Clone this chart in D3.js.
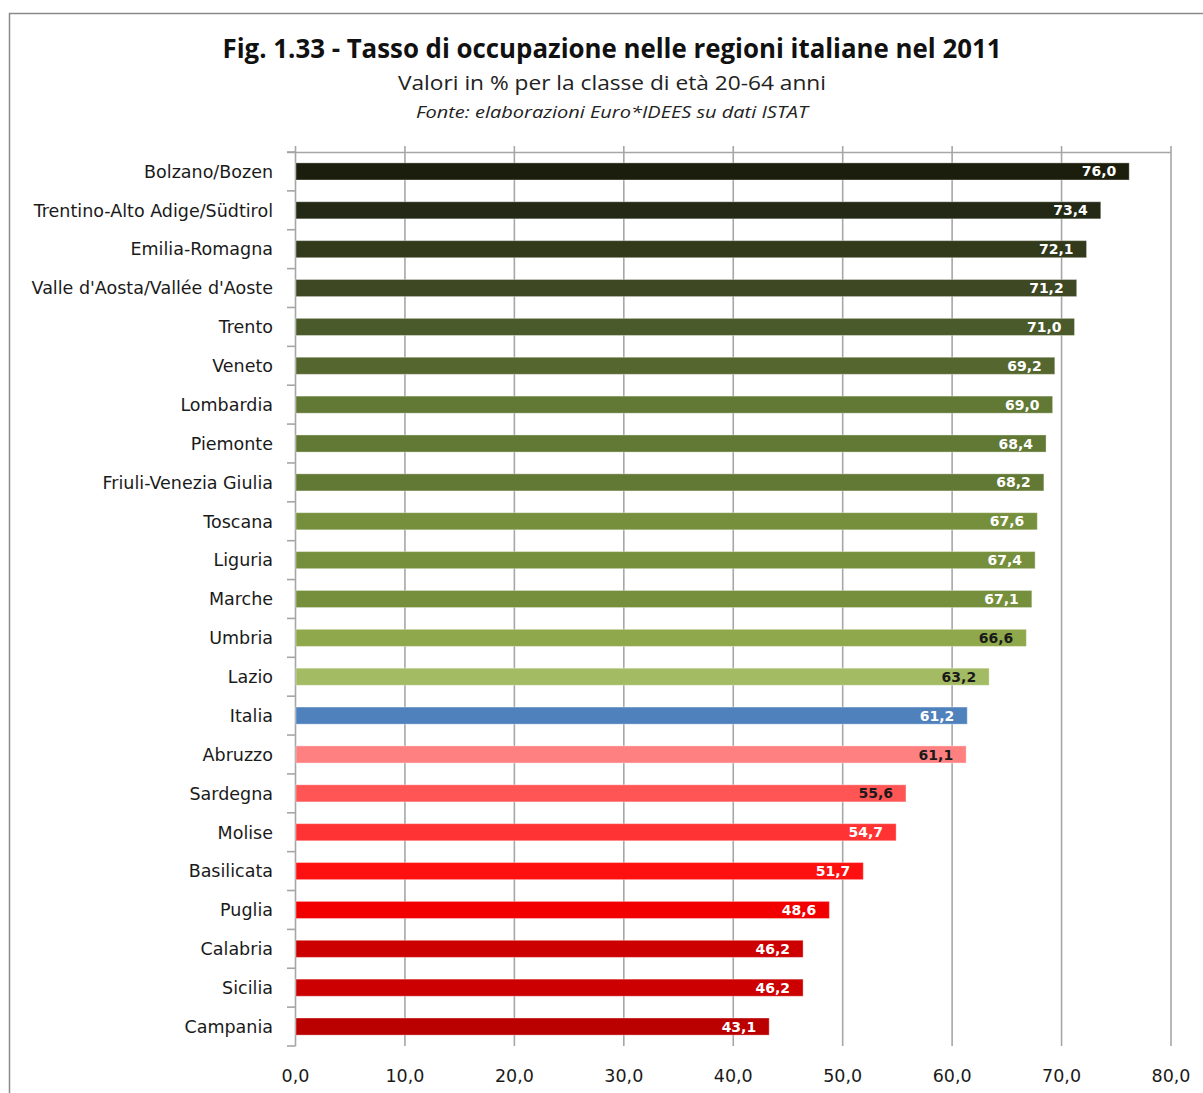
<!DOCTYPE html>
<html>
<head>
<meta charset="utf-8">
<script src="https://cdn.jsdelivr.net/npm/d3@7"></script>
<style>
  html, body { margin: 0; padding: 0; background: #fff; }
  svg { display: block; }
</style>
</head>
<body>
<svg id="chart" width="1203" height="1093"></svg>
<script>
const regions = [
  "Bolzano/Bozen", "Trentino-Alto Adige/Südtirol", "Emilia-Romagna", "Valle d'Aosta/Vallée d'Aoste",
  "Trento", "Veneto", "Lombardia", "Piemonte", "Friuli-Venezia Giulia", "Toscana", "Liguria",
  "Marche", "Umbria", "Lazio", "Italia", "Abruzzo", "Sardegna", "Molise", "Basilicata",
  "Puglia", "Calabria", "Sicilia", "Campania"
];
const values = [76.0, 73.4, 72.1, 71.2, 71.0, 69.2, 69.0, 68.4, 68.2, 67.6, 67.4, 67.1, 66.6, 63.2,
  61.2, 61.1, 55.6, 54.7, 51.7, 48.6, 46.2, 46.2, 43.1];
const barColors = ["#1b1e0d", "#232914", "#333a1c", "#3e4822", "#4a5a2a", "#55672f", "#627835",
  "#627835", "#627835", "#768f3c", "#768f3c", "#768f3c", "#8fa84b", "#a3bc63", "#4f81bd",
  "#ff8080", "#ff5555", "#ff3333", "#ff1010", "#f20000", "#cc0000", "#cc0000", "#bb0000"];
const labelColors = ["#fff", "#fff", "#fff", "#fff", "#fff", "#fff", "#fff", "#fff", "#fff", "#fff",
  "#fff", "#fff", "#1a1a1a", "#1a1a1a", "#fff", "#1a1a1a", "#1a1a1a", "#fff", "#fff", "#fff",
  "#fff", "#fff", "#fff"];
const xTicks = [0, 10, 20, 30, 40, 50, 60, 70, 80];

const title = "Fig. 1.33 - Tasso di occupazione nelle regioni italiane nel 2011";
const subtitle = "Valori in % per la classe di età 20-64 anni";
const source = "Fonte: elaborazioni Euro*IDEES su dati ISTAT";

const svg = d3.select("#chart");
const fmt = v => d3.format(".1f")(v).replace(".", ",");

// outer frame
svg.append("rect").attr("x", 9.5).attr("y", 13.5).attr("width", 1210).attr("height", 1100)
  .attr("fill", "#fff").attr("stroke", "#8a8a8a").attr("stroke-width", 1.5);

// titles
svg.append("text").attr("x", 612).attr("y", 58).attr("text-anchor", "middle")
  .attr("font-family", "Open Sans, sans-serif").attr("font-weight", "bold").attr("font-size", 26)
  .attr("textLength", 779).attr("lengthAdjust", "spacingAndGlyphs")
  .attr("fill", "#111").text(title);
svg.append("text").attr("x", 612).attr("y", 90).attr("text-anchor", "middle")
  .attr("font-family", "Open Sans, sans-serif").attr("font-size", 20)
  .attr("textLength", 428).attr("lengthAdjust", "spacingAndGlyphs")
  .attr("fill", "#222").text(subtitle);
svg.append("text").attr("x", 612).attr("y", 118).attr("text-anchor", "middle")
  .attr("font-family", "Open Sans, sans-serif").attr("font-size", 16).attr("font-style", "italic")
  .attr("textLength", 392).attr("lengthAdjust", "spacingAndGlyphs")
  .attr("fill", "#222").text(source);

const x = d3.scaleLinear().domain([0, 80]).range([295.5, 1171]);
const y = d3.scaleBand().domain(regions).range([152, 1046]).paddingInner(0.56).paddingOuter(0.28);

const g = svg.append("g");

// gridlines
g.selectAll("line.grid").data(xTicks.slice(1)).join("line")
  .attr("x1", d => x(d)).attr("x2", d => x(d))
  .attr("y1", 146).attr("y2", 1046)
  .attr("stroke", "#a6a6a6").attr("stroke-width", 1.6);

// top axis line
g.append("line").attr("x1", 287).attr("x2", x(80)).attr("y1", 152.5).attr("y2", 152.5)
  .attr("stroke", "#a6a6a6").attr("stroke-width", 1.6);
g.append("line").attr("x1", x(0)).attr("x2", x(0)).attr("y1", 146).attr("y2", 1046)
  .attr("stroke", "#a6a6a6").attr("stroke-width", 1.6);

// category tick marks on left axis
const bounds = d3.range(regions.length + 1).map(i => 152 + i * (1046 - 152) / regions.length);
g.selectAll("line.ytick").data(bounds).join("line")
  .attr("x1", 287).attr("x2", x(0)).attr("y1", d => d).attr("y2", d => d)
  .attr("stroke", "#a6a6a6").attr("stroke-width", 1.6);

// bars
g.selectAll("rect.bar").data(regions).join("rect")
  .attr("x", x(0) + 0.5)
  .attr("y", d => y(d))
  .attr("width", (d, i) => x(values[i]) - x(0) + 1.5)
  .attr("height", y.bandwidth())
  .attr("fill", (d, i) => barColors[i])
  .attr("stroke", "rgba(255,255,255,0.35)").attr("stroke-width", 1);

// value labels
g.selectAll("text.val").data(regions).join("text")
  .attr("x", (d, i) => x(values[i]) - 11)
  .attr("y", d => y(d) + y.bandwidth() / 2)
  .attr("dy", "0.36em")
  .attr("text-anchor", "end")
  .attr("font-family", "DejaVu Sans, sans-serif").attr("font-weight", "bold").attr("font-size", 14)
  .attr("fill", (d, i) => labelColors[i])
  .text((d, i) => fmt(values[i]));

// category labels
g.selectAll("text.cat").data(regions).join("text")
  .attr("x", 273)
  .attr("y", d => y(d) + y.bandwidth() / 2)
  .attr("dy", "0.36em")
  .attr("text-anchor", "end")
  .attr("font-family", "DejaVu Sans, sans-serif").attr("font-size", 17.5)
  .attr("fill", "#1a1a1a")
  .text(d => d);

// x tick labels
g.selectAll("text.xt").data(xTicks).join("text")
  .attr("x", d => x(d))
  .attr("y", 1082)
  .attr("text-anchor", "middle")
  .attr("font-family", "DejaVu Sans, sans-serif").attr("font-size", 17.5)
  .attr("fill", "#1a1a1a")
  .text(d => fmt(d));
</script>
</body>
</html>
